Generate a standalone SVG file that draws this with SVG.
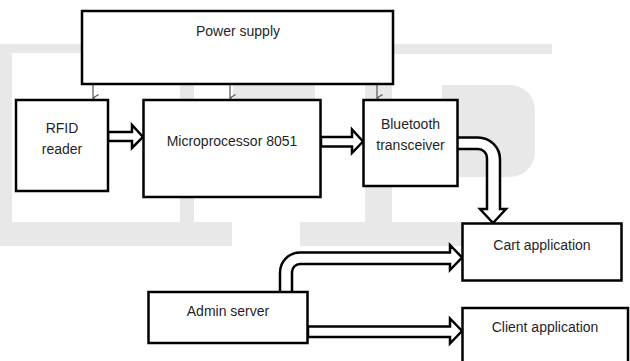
<svg xmlns="http://www.w3.org/2000/svg" width="630" height="361" viewBox="0 0 630 361">
<style>
.box{fill:#fff;stroke:#000;stroke-width:2.5}
.lbl{font-family:"Liberation Sans",Arial,sans-serif;font-size:14px;fill:#1f1f2a;text-anchor:middle}
.fat{fill:#fff;stroke:#000;stroke-width:2.5;stroke-linejoin:miter}
.thin{fill:none;stroke:#555;stroke-width:1.2}
.wm{fill:#e8e8e8}
</style>
<defs>
<marker id="ah" markerWidth="8" markerHeight="7" refX="4" refY="6" orient="auto-start-reverse" markerUnits="userSpaceOnUse" viewBox="0 0 8 7">
<path d="M0.5,0.5 L4,6 L7.5,0.5" fill="none" stroke="#555" stroke-width="1.2"/>
</marker>
</defs>
<g id="watermark">
<rect class="wm" x="0" y="44" width="90" height="9"/>
<rect class="wm" x="0" y="44" width="12" height="200"/>
<rect class="wm" x="0" y="222" width="232" height="24"/>
<rect class="wm" x="300" y="222" width="164" height="24"/>
<rect class="wm" x="180" y="44" width="14" height="180"/>
<rect class="wm" x="233" y="84" width="82" height="16"/>
<rect class="wm" x="365" y="44" width="27" height="180"/>
<path class="wm" d="M442,85 H510 A25,25 0 0 1 535,110 V152 A25,25 0 0 1 510,177 H442 Z"/>
<rect class="wm" x="392" y="44" width="160" height="10"/>
</g>
<g id="connectors">
<line class="thin" x1="93" y1="85" x2="93" y2="98" marker-end="url(#ah)"/>
<line class="thin" x1="230" y1="85" x2="230" y2="98" marker-end="url(#ah)"/>
<line class="thin" x1="377" y1="85" x2="377" y2="98" marker-end="url(#ah)"/>
<polygon class="fat" points="108,132 132,132 132,125 143,137 132,148 132,141 108,141"/>
<polygon class="fat" points="321,137 352,137 352,129.5 363,141.5 352,153 352,146.5 321,146.5"/>
<path class="fat" d="M458,137.5 H478 A22,22 0 0 1 500,159.5 V209 H506 L493,223 L480,209 H487 V158 A9,9 0 0 0 478,149 H458"/>
<path class="fat" d="M280,292 V272.5 A20,20 0 0 1 300,252.5 H450 V245 L462,257.5 L450,270 V264 H300 A8,8 0 0 0 292,272 V292"/>
<polygon class="fat" points="308,326.5 450,326.5 450,318.5 462,331 450,343.5 450,337 308,337"/>
</g>
<g id="power">
<rect class="box" x="82" y="11" width="311" height="73"/>
<text class="lbl" x="238" y="36">Power supply</text>
</g>
<g id="rfid">
<rect class="box" x="16" y="100" width="92" height="91"/>
<text class="lbl" x="62" y="133">RFID</text>
<text class="lbl" x="62" y="154">reader</text>
</g>
<g id="micro">
<rect class="box" x="143.5" y="100" width="177" height="97"/>
<text class="lbl" x="232" y="146">Microprocessor 8051</text>
</g>
<g id="bluetooth">
<rect class="box" x="363.5" y="100" width="94" height="86"/>
<text class="lbl" x="410.5" y="129">Bluetooth</text>
<text class="lbl" x="410.5" y="150">transceiver</text>
</g>
<g id="cart">
<rect class="box" x="462.5" y="223.5" width="159" height="57"/>
<text class="lbl" x="542" y="250">Cart application</text>
</g>
<g id="client">
<rect class="box" x="462.5" y="308" width="165.5" height="60"/>
<text class="lbl" x="545" y="332">Client application</text>
</g>
<g id="admin">
<rect class="box" x="148.5" y="292" width="159" height="51"/>
<text class="lbl" x="228" y="316">Admin server</text>
</g>
</svg>
